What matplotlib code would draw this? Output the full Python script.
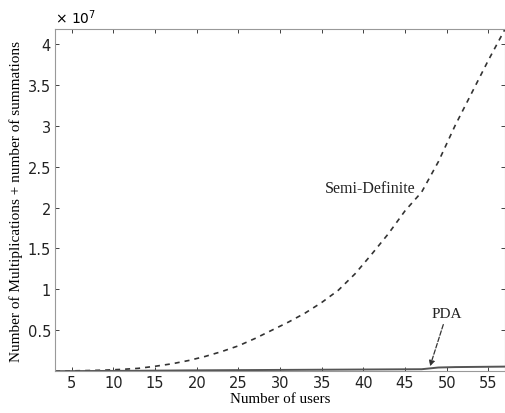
import matplotlib
matplotlib.use("Agg")
import matplotlib.pyplot as plt

# Data (values in units of 1e7)
users = [3, 5, 7, 9, 11, 13, 15, 17, 19, 21, 23, 25, 27, 29, 31, 33, 35, 37, 39,
         41, 43, 45, 47, 49, 51, 53, 55, 57]
semi_definite = [0.0, 0.004, 0.008, 0.013, 0.022, 0.035, 0.06, 0.09, 0.13, 0.18, 0.24,
                 0.31, 0.40, 0.50, 0.60, 0.71, 0.84, 0.99, 1.19, 1.43, 1.68, 1.96,
                 2.19, 2.56, 3.00, 3.40, 3.80, 4.18]
pda = [0.0, 0.001, 0.002, 0.003, 0.004, 0.005, 0.007, 0.008, 0.01, 0.011, 0.012,
       0.013, 0.014, 0.015, 0.016, 0.017, 0.018, 0.019, 0.02, 0.021, 0.022, 0.023,
       0.024, 0.045, 0.05, 0.052, 0.054, 0.056]
xticks = [5, 10, 15, 20, 25, 30, 35, 40, 45, 50, 55]
yticks = [0.5, 1, 1.5, 2, 2.5, 3, 3.5, 4]

fig = plt.figure(figsize=(5.06, 4.14), dpi=100)
ax = fig.add_axes([0.109, 0.101, 0.889, 0.826])

ax.plot(users, semi_definite, linestyle=(0, (3, 3)), color="#333333", linewidth=1.2)
ax.plot(users, pda, linestyle="-", color="#555555", linewidth=1.4)

ax.set_xlim(3, 57)
ax.set_ylim(0, 4.18)
ax.set_xticks(xticks)
ax.set_xticklabels([str(t) for t in xticks])
ax.set_yticks(yticks)
ax.set_yticklabels([f"{t:g}" for t in yticks])
ax.tick_params(direction="in", top=True, right=True, length=3, labelsize=10.5,
               colors="#222222", width=0.6, pad=3)
for s in ax.spines.values():
    s.set_linewidth(0.8)
    s.set_color("#999999")

serif = "Liberation Serif"
ax.set_xlabel("Number of users", fontsize=10.8, family=serif, labelpad=1)
ax.set_ylabel("Number of Multiplications + number of summations", fontsize=11,
              family=serif, labelpad=3)

ax.text(0.0, 1.01, r"$\times\ 10^{7}$", transform=ax.transAxes, fontsize=10,
        ha="left", va="bottom")

ax.text(40.8, 2.24, "Semi-Definite", family=serif, fontsize=11.5,
        ha="center", va="center", color="#222222")
ax.annotate("PDA", xy=(48.0, 0.06), xytext=(50.0, 0.62), family=serif, fontsize=11,
            ha="center", va="bottom", color="#222222",
            arrowprops=dict(arrowstyle="-|>", linestyle="--", color="#333333",
                            lw=0.9, shrinkA=1, shrinkB=0, mutation_scale=8))

fig.savefig("out.png", dpi=100)
